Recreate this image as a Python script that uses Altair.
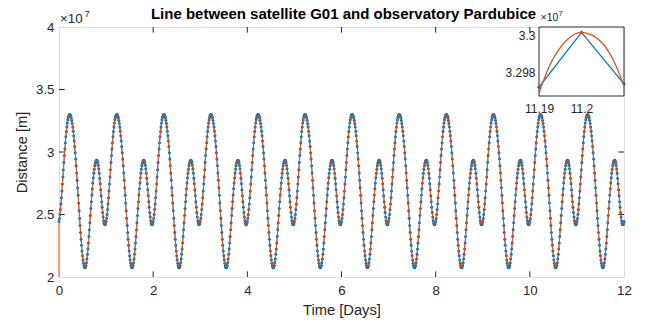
import altair as alt
import pandas as pd

# ---------------- data (distance in units of 1e7 m, as on the axis) ----------------
# One day of 15-minute samples; every day in the plot repeats it.
day_profile = [
    2.4434, 2.4683, 2.5007, 2.5399, 2.5848, 2.6344, 2.6877, 2.7434, 2.8007, 2.8584, 2.9156, 2.9712,
    3.0245, 3.0747, 3.1212, 3.1632, 3.2004, 3.2321, 3.2581, 3.2781, 3.2917, 3.2988, 3.2996, 3.2951,
    3.2857, 3.2713, 3.2521, 3.2282, 3.1996, 3.1666, 3.1295, 3.0883, 3.0434, 2.9950, 2.9436, 2.8893,
    2.8326, 2.7739, 2.7142, 2.6531, 2.5917, 2.5306, 2.4703, 2.4122, 2.3560, 2.3030, 2.2537, 2.2090,
    2.1696, 2.1366, 2.1101, 2.0907, 2.0789, 2.0750, 2.0796, 2.0930, 2.1150, 2.1448, 2.1815, 2.2244,
    2.2722, 2.3239, 2.3784, 2.4346, 2.4913, 2.5475, 2.6025, 2.6553, 2.7052, 2.7516, 2.7936, 2.8308,
    2.8628, 2.8894, 2.9101, 2.9247, 2.9330, 2.9348, 2.9291, 2.9153, 2.8937, 2.8651, 2.8302, 2.7899,
    2.7456, 2.6987, 2.6504, 2.6026, 2.5571, 2.5154, 2.4796, 2.4509, 2.4307, 2.4198, 2.4187, 2.4267,
]
n_days = 12
samples_per_day = 96
orange_start = 2.0          # orange series begins at the bottom of the axis

# inset (zoom around the peak at 11.2 days)
inset_blue_t = [11.19, 11.20, 11.21]
inset_blue_d = [3.29722, 3.30014, 3.29740]
inset_orange_t = [11.19, 11.1925, 11.195, 11.1975, 11.20, 11.2025, 11.205, 11.2075, 11.21]
inset_orange_d = [3.29690, 3.29838, 3.29933, 3.29992, 3.30014, 3.30000, 3.29955, 3.29866, 3.29730]
inset_x_lim = [11.19, 11.21]
inset_y_lim = [3.29675, 3.30043]

x_ticks = [0, 2, 4, 6, 8, 10, 12]
y_ticks = [2, 2.5, 3, 3.5, 4]
inset_x_ticks = [11.19, 11.2]
inset_y_ticks = [3.298, 3.3]

title_text = "Line between satellite G01 and observatory Pardubice"

# ---------------- tables ----------------
times = [i / samples_per_day for i in range(n_days * samples_per_day + 1)]
dist = day_profile * n_days + day_profile[:1]
blue_df = pd.DataFrame({"t": times, "d": dist})
orange_df = pd.DataFrame({"t": [0.0] + times, "d": [orange_start] + dist})
orange_df["i"] = range(len(orange_df))

ib_df = pd.DataFrame({"t": inset_blue_t, "d": inset_blue_d})
io_df = pd.DataFrame({"t": inset_orange_t, "d": inset_orange_d})
box_df = pd.DataFrame({"x1": [inset_x_lim[0]], "x2": [inset_x_lim[1]],
                       "y1": [inset_y_lim[0]], "y2": [inset_y_lim[1]]})

BLUE = "#0072BD"
ORANGE = "#D95319"
AX = "#262626"
FONT = "Liberation Sans"
W, H = 565, 250
TL = 5.65  # inward tick length

xs = alt.Scale(domain=[0, 12], nice=False, zero=False)
ys = alt.Scale(domain=[2, 4], nice=False, zero=False)

x_axis = alt.Axis(values=x_ticks, format="~g", domain=False, ticks=False, grid=False,
                  labelFlush=False, labelOverlap=False, labelPadding=6,
                  labelFontSize=13.3, labelColor=AX, labelFont=FONT,
                  title="Time [Days]", titleFont=FONT, titleFontSize=14.7,
                  titleFontWeight="normal", titleColor=AX, titleY=33, titleBaseline="middle")
y_axis = alt.Axis(values=y_ticks, format="~g", domain=False, ticks=False, grid=False,
                  labelFlush=False, labelOverlap=False, labelPadding=5,
                  labelFontSize=13.3, labelColor=AX, labelFont=FONT,
                  title="Distance [m]", titleFont=FONT, titleFontSize=14.7,
                  titleFontWeight="normal", titleColor=AX, titleX=-37, titleY=125,
                  titleBaseline="middle", titleAngle=270)

blue_line = alt.Chart(blue_df).mark_line(color=BLUE, strokeWidth=0.8).encode(
    x=alt.X("t:Q", scale=xs, axis=x_axis),
    y=alt.Y("d:Q", scale=ys, axis=y_axis),
)
blue_pts = alt.Chart(blue_df).mark_circle(color=BLUE, size=9, opacity=1).encode(
    x=alt.X("t:Q", scale=xs), y=alt.Y("d:Q", scale=ys))
orange_line = alt.Chart(orange_df).mark_line(color=ORANGE, strokeWidth=1).encode(
    x=alt.X("t:Q", scale=xs), y=alt.Y("d:Q", scale=ys), order="i:Q")

xt_df = pd.DataFrame({"t": x_ticks[1:-1]})
yt_df = pd.DataFrame({"d": y_ticks[1:-1]})
tick_b = alt.Chart(xt_df).mark_rule(color=AX, strokeWidth=1).encode(
    x=alt.X("t:Q", scale=xs), y=alt.value(H), y2=alt.value(H - TL))
tick_t = alt.Chart(xt_df).mark_rule(color=AX, strokeWidth=1).encode(
    x=alt.X("t:Q", scale=xs), y=alt.value(0), y2=alt.value(TL))
tick_l = alt.Chart(yt_df).mark_rule(color=AX, strokeWidth=1).encode(
    y=alt.Y("d:Q", scale=ys), x=alt.value(0), x2=alt.value(TL))
tick_r = alt.Chart(yt_df).mark_rule(color=AX, strokeWidth=1).encode(
    y=alt.Y("d:Q", scale=ys), x=alt.value(W), x2=alt.value(W - TL))

exp_df = pd.DataFrame({"s": ["×10"]})
sup_df = pd.DataFrame({"s": ["7"]})
title_df = pd.DataFrame({"s": [title_text]})
exp_main = alt.Chart(exp_df).mark_text(align="left", baseline="middle", font=FONT,
                                       fontSize=13.3, color=AX).encode(
    text="s:N", x=alt.value(1), y=alt.value(-8.5))
sup_main = alt.Chart(sup_df).mark_text(align="left", baseline="middle", font=FONT,
                                       fontSize=9.5, color=AX).encode(
    text="s:N", x=alt.value(25.5), y=alt.value(-13.5))
title_mark = alt.Chart(title_df).mark_text(align="center", baseline="alphabetic", font=FONT,
                                           fontSize=15, fontWeight="bold", color="#000000").encode(
    text="s:N", x=alt.value(W / 2 + 2), y=alt.value(-8.5))

main = alt.layer(tick_b, tick_t, tick_l, tick_r, blue_line, blue_pts, orange_line,
                 exp_main, sup_main, title_mark)

# ---------------- inset ----------------
IX0, IX1 = 480, 565
IY0, IY1 = 69, 0
ixs = alt.Scale(domain=inset_x_lim, range=[IX0, IX1], nice=False, zero=False)
iys = alt.Scale(domain=inset_y_lim, range=[IY0, IY1], nice=False, zero=False)

ix_axis = alt.Axis(orient="bottom", offset=-(H - IY0), values=inset_x_ticks, format="~g",
                   domain=False, ticks=False, grid=False, labelFlush=False, labelOverlap=False,
                   labelPadding=7, labelFontSize=12, labelColor=AX, labelFont=FONT, title=None)
iy_axis = alt.Axis(orient="left", offset=-IX0, values=inset_y_ticks, format="~g",
                   domain=False, ticks=False, grid=False, labelFlush=False, labelOverlap=False,
                   labelPadding=4, labelFontSize=12, labelColor=AX, labelFont=FONT, title=None)

box = alt.Chart(box_df).mark_rect(fill="white", stroke=AX, strokeWidth=1).encode(
    x=alt.X("x1:Q", scale=ixs, axis=ix_axis), x2="x2:Q",
    y=alt.Y("y1:Q", scale=iys, axis=iy_axis), y2="y2:Q")
ib_line = alt.Chart(ib_df).mark_line(color=BLUE, strokeWidth=1.3).encode(
    x=alt.X("t:Q", scale=ixs), y=alt.Y("d:Q", scale=iys))
ib_pts = alt.Chart(ib_df).mark_circle(color=BLUE, size=10, opacity=1).encode(
    x=alt.X("t:Q", scale=ixs), y=alt.Y("d:Q", scale=iys))
io_line = alt.Chart(io_df).mark_line(color=ORANGE, strokeWidth=1.3, interpolate="monotone").encode(
    x=alt.X("t:Q", scale=ixs), y=alt.Y("d:Q", scale=iys))
exp_in = alt.Chart(exp_df).mark_text(align="left", baseline="middle", font=FONT,
                                     fontSize=10.5, color=AX).encode(
    text="s:N", x=alt.value(IX0 + 1.5), y=alt.value(-9))
sup_in = alt.Chart(sup_df).mark_text(align="left", baseline="middle", font=FONT,
                                     fontSize=7.5, color=AX).encode(
    text="s:N", x=alt.value(IX0 + 19.5), y=alt.value(-13))

inset = alt.layer(box, ib_line, ib_pts, io_line, exp_in, sup_in)

chart = alt.layer(main, inset).resolve_scale(x="independent", y="independent").properties(
    width=W, height=H,
    padding={"left": 59, "top": 27, "right": 28, "bottom": 47},
    autosize=alt.AutoSizeParams(type="none"),
).configure_view(stroke=AX, strokeWidth=1).configure(background="white")

chart.save("out.html", embed_options={"renderer": "svg", "actions": False})
